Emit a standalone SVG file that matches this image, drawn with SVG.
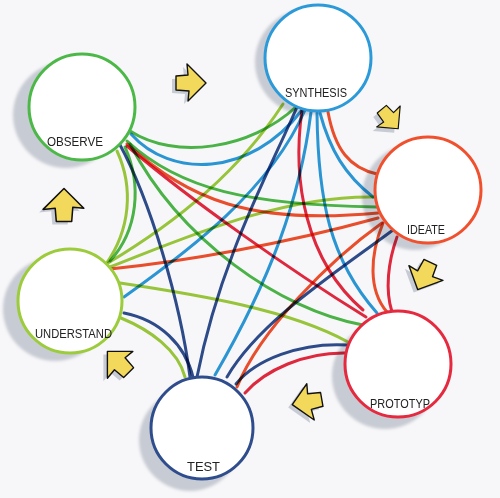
<svg xmlns="http://www.w3.org/2000/svg" xmlns:xlink="http://www.w3.org/1999/xlink" width="500" height="498" viewBox="0 0 500 498">
<style>
.bg{fill:#f7f7f9}
.sh{fill:#c7cbd3}
.c path{fill:none;stroke-width:3;stroke-linecap:round;mix-blend-mode:multiply}
.g{stroke:#4cb847}.b{stroke:#2c9ad8}.o{stroke:#f0502d}.l{stroke:#9ccb3b}.n{stroke:#2f4d8c}.r{stroke:#e5293f}
.node{fill:#fff;stroke-width:3}
.t{font-family:"Liberation Sans",Arial,sans-serif;font-size:13px;fill:#222}
.ya{fill:#f3d95b;stroke:#111;stroke-width:1.4;stroke-linejoin:round}
.ys{fill:#c7cbd3}
</style>
<defs>
<path id="arr" d="M-15,-7 L-3,-8 L-4,-19 L15,0 L-3,18 L-2,8 L-15,7 Z"/>
<filter id="soft" x="-20%" y="-20%" width="140%" height="140%"><feGaussianBlur stdDeviation="1.5"/></filter>
</defs>
<rect class="bg" x="0" y="0" width="500" height="498"/>
<g id="shadows" filter="url(#soft)">
<circle class="sh" cx="66" cy="115" r="53"/>
<circle class="sh" cx="308" cy="62" r="53"/>
<circle class="sh" cx="415" cy="197" r="53"/>
<circle class="sh" cx="55" cy="309" r="52"/>
<circle class="sh" cx="190" cy="440" r="51"/>
<circle class="sh" cx="385" cy="376" r="53"/>
</g>
<g id="flow-arrows">
<use xlink:href="#arr" class="ys" transform="translate(187,86) rotate(0)"/>
<use xlink:href="#arr" class="ya" transform="translate(191,83) rotate(0)"/>
<use xlink:href="#arr" class="ys" transform="translate(386,123) rotate(50) scale(0.85)"/>
<use xlink:href="#arr" class="ya" transform="translate(390,119) rotate(50) scale(0.85)"/>
<use xlink:href="#arr" class="ys" transform="translate(420,279) rotate(115)"/>
<use xlink:href="#arr" class="ya" transform="translate(424,276) rotate(115)"/>
<use xlink:href="#arr" class="ys" transform="translate(303,405) rotate(170)"/>
<use xlink:href="#arr" class="ya" transform="translate(307,402) rotate(170)"/>
<use xlink:href="#arr" class="ys" transform="translate(114,365) rotate(225)"/>
<use xlink:href="#arr" class="ya" transform="translate(118,362) rotate(225)"/>
<use xlink:href="#arr" class="ys" transform="translate(60,208) rotate(-90) scale(1.1)"/>
<use xlink:href="#arr" class="ya" transform="translate(64,205) rotate(-90) scale(1.1)"/>
</g>
<g id="connectors" class="c">
<path class="g" d="M130,131 C175,160 250,150 297,106"/>
<path class="b" d="M131,134 C170,178 250,178 302,110"/>
<path class="g" d="M127,141 C180,190 250,205 377,207"/>
<path class="o" d="M127,144 C190,200 250,225 378,213"/>
<path class="r" d="M127,146 C190,200 290,270 366,317"/>
<path class="n" d="M119,143 C150,200 180,300 190,377"/>
<path class="g" d="M130,144 C180,240 280,310 363,325"/>
<path class="g" d="M125,147 C142,185 138,230 110,261"/>
<path class="l" d="M117,151 C134,188 130,230 106,264"/>
<path class="l" d="M108,263 C180,220 240,170 283,104"/>
<path class="l" d="M110,267 C180,240 280,195 375,197"/>
<path class="o" d="M110,269 C180,262 280,245 378,218"/>
<path class="b" d="M124,297 C190,250 270,190 305,110"/>
<path class="l" d="M120,283 C200,295 290,310 348,342"/>
<path class="n" d="M124,313 C160,320 185,345 193,377"/>
<path class="l" d="M121,318 C150,330 178,350 185,377"/>
<path class="b" d="M311,112 C300,200 270,280 215,375"/>
<path class="n" d="M297,107 C270,170 220,260 197,377"/>
<path class="r" d="M302,110 C292,180 305,260 363,310"/>
<path class="o" d="M328,112 C335,150 350,168 377,174"/>
<path class="b" d="M320,113 C330,150 345,175 373,197"/>
<path class="b" d="M317,113 C318,200 330,260 377,313"/>
<path class="o" d="M382,223 C330,260 260,330 237,387"/>
<path class="n" d="M397,227 C340,270 260,320 227,377"/>
<path class="o" d="M383,223 C370,255 368,290 387,312"/>
<path class="r" d="M397,237 C388,262 385,290 392,312"/>
<path class="n" d="M236,384 C255,360 300,342 348,345"/>
<path class="r" d="M245,393 C265,370 305,352 347,353"/>
</g>
<g id="observe">
<circle class="node" cx="82" cy="107" r="53" stroke="#4cb847"/>
<text class="t" x="47" y="146" textLength="56" lengthAdjust="spacingAndGlyphs">OBSERVE</text>
</g>
<g id="synthesis">
<circle class="node" cx="318" cy="58" r="53" stroke="#2c9ad8"/>
<text class="t" x="285" y="97" textLength="62" lengthAdjust="spacingAndGlyphs">SYNTHESIS</text>
</g>
<g id="ideate">
<circle class="node" cx="428" cy="190" r="53" stroke="#f0502d"/>
<text class="t" x="407" y="234" textLength="38" lengthAdjust="spacingAndGlyphs">IDEATE</text>
</g>
<g id="understand">
<circle class="node" cx="70" cy="301" r="52" stroke="#9ccb3b"/>
<text class="t" x="35" y="338" textLength="77" lengthAdjust="spacingAndGlyphs">UNDERSTAND</text>
</g>
<g id="test">
<circle class="node" cx="202" cy="428" r="51" stroke="#2f4d8c"/>
<text class="t" x="187" y="471" textLength="33" lengthAdjust="spacingAndGlyphs">TEST</text>
</g>
<g id="prototyp">
<circle class="node" cx="398" cy="364" r="53" stroke="#e5293f"/>
<text class="t" x="370" y="408" textLength="60" lengthAdjust="spacingAndGlyphs">PROTOTYP</text>
</g>
</svg>
